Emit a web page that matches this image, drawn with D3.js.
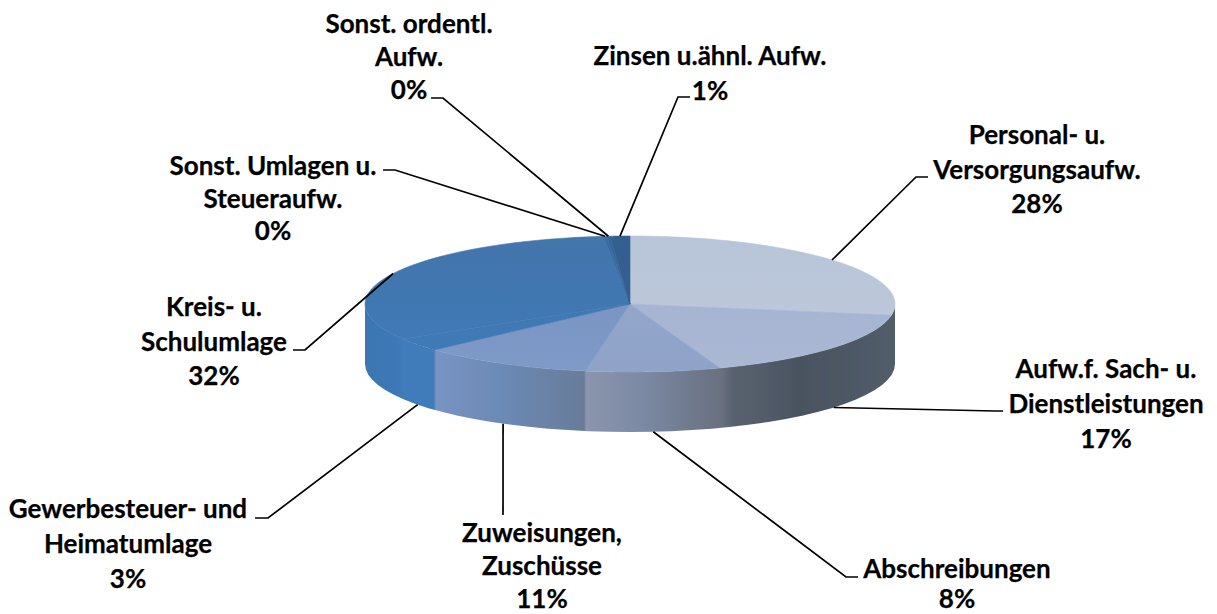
<!DOCTYPE html>
<html><head><meta charset="utf-8">
<script src="https://cdn.jsdelivr.net/npm/d3@7/dist/d3.min.js"></script>
<style>html,body{margin:0;padding:0;background:#fff}svg{display:block}text{font-family:Lato,sans-serif;font-weight:700;font-size:26px;fill:#000;stroke:#000;stroke-width:0.25;text-anchor:middle}</style>
</head><body><svg id="c" width="1217" height="614"></svg>
<script>
const categories=["Personal- u. Versorgungsaufw.","Aufw.f. Sach- u. Dienstleistungen","Abschreibungen","Zuweisungen, Zuschüsse","Gewerbesteuer- und Heimatumlage","Kreis- u. Schulumlage","Sonst. Umlagen u. Steueraufw.","Sonst. ordentl. Aufw.","Zinsen u.ähnl. Aufw."];
const values=[27.6,16.9,8.2,10.5,3.2,32,0.2,0.2,1.2];
const topColors=[["#b8c4d8","#bfcadb"],["#a2b1d0","#aab8d4"],["#98a9cc","#8fa2c8"],["#7590bf","#7f9ac7"],["#4474aa","#3d7bba"],["#4474aa","#3d7bba"],["#3b6b9f","#3a6fa8"],["#36659a","#3a6ba0"],["#33608f","#2c5d92"]];
const labelLines=[["Personal- u.","Versorgungsaufw."],["Aufw.f. Sach- u.","Dienstleistungen"],["Abschreibungen"],["Zuweisungen,","Zuschüsse"],["Gewerbesteuer- und","Heimatumlage"],["Kreis- u.","Schulumlage"],["Sonst. Umlagen u.","Steueraufw."],["Sonst. ordentl.","Aufw."],["Zinsen u.ähnl. Aufw."]];
// label layout: centre x, first baseline, line step, elbow [x0,x1,y], on side wall?
const layout=[
 {x:1037,y:144,dy:34.5,e:[928,916,177]},
 {x:1106,y:378,dy:35,e:[1003,995,411],wall:1},
 {x:957,y:578,dy:30,e:[858,846,577],wall:1},
 {x:542,y:542,dy:33,e:[503,503,515],wall:1},
 {x:128,y:518,dy:35,e:[255,268,518],wall:1},
 {x:214,y:316,dy:34.5,e:[293,305,350]},
 {x:273,y:175,dy:32.5,e:[383,395,170]},
 {x:409,y:33,dy:33,e:[431,443,98]},
 {x:710,y:65,dy:35,e:[690,678,97]}
];
const svg=d3.select("#c");
const defs=svg.append("defs");
defs.append("filter").attr("id","soft").append("feGaussianBlur").attr("stdDeviation",0.7);
const px=d3.scaleLinear().domain([-1,1]).range([365,895]);
const py=d3.scaleLinear().domain([-1,1]).range([236,372]);
const depth=60;
const arcs=d3.pie().sort(null).value(d=>d)(values);
const P=a=>[px(Math.sin(a)),py(-Math.cos(a))];
const pts=(a0,a1)=>d3.range(0,41).map(i=>P(a0+(a1-a0)*i/40));
const line=d3.line();
const wallStops=[[365,"#3e76b2"],[395,"#3e78b6"],[403,"#3f7bb9"],[434,"#3f7bb9"],[436,"#7894c2"],[500,"#6c8ab6"],[584,"#687c9a"],[586,"#8b95ad"],[640,"#7c8aa4"],[690,"#6f7a8d"],[722,"#6a7080"],[732,"#5a6270"],[800,"#4a5361"],[895,"#525d6a"]];
const wg=defs.append("linearGradient").attr("id","wall").attr("gradientUnits","userSpaceOnUse").attr("x1",365).attr("x2",895).attr("y1",0).attr("y2",0);
wallStops.forEach(s=>wg.append("stop").attr("offset",(s[0]-365)/530).attr("stop-color",s[1]));
topColors.forEach((c,i)=>{const g=defs.append("linearGradient").attr("id","t"+i).attr("gradientUnits","userSpaceOnUse").attr("x1",0).attr("x2",0).attr("y1",236).attr("y2",372);
 g.append("stop").attr("offset",0).attr("stop-color",c[0]);g.append("stop").attr("offset",1).attr("stop-color",c[1]);});
const pie=svg.append("g").attr("filter","url(#soft)");
const front=pts(Math.PI/2,Math.PI*1.5);
pie.append("path").attr("fill","url(#wall)")
 .attr("d",line(front.concat(front.slice().reverse().map(p=>[p[0],p[1]+depth])))+"Z");
pie.selectAll("path.top").data(arcs).join("path").attr("class","top")
 .attr("fill",(d,i)=>`url(#t${i})`).attr("stroke",(d,i)=>`url(#t${i})`).attr("stroke-width",0.6)
 .attr("d",d=>line([[px(0),py(0)],...pts(d.startAngle,d.endAngle)])+"Z");
const anchor=(d,i)=>{const m=(d.startAngle+d.endAngle)/2,p=P(m);return layout[i].wall?[p[0],p[1]+depth]:p;};
svg.append("g").selectAll("path").data(arcs).join("path").attr("fill","none").attr("stroke","#000").attr("stroke-width",1.7)
 .attr("d",(d,i)=>{const e=layout[i].e;return line([[e[0],e[2]],[e[1],e[2]],anchor(d,i)]);});
const t=svg.append("g");
arcs.forEach((d,i)=>{const L=layout[i];
 labelLines[i].concat([Math.round(d.value)+"%"]).forEach((s,j)=>t.append("text").attr("x",L.x).attr("y",L.y+j*L.dy).text(s));});
</script></body></html>
